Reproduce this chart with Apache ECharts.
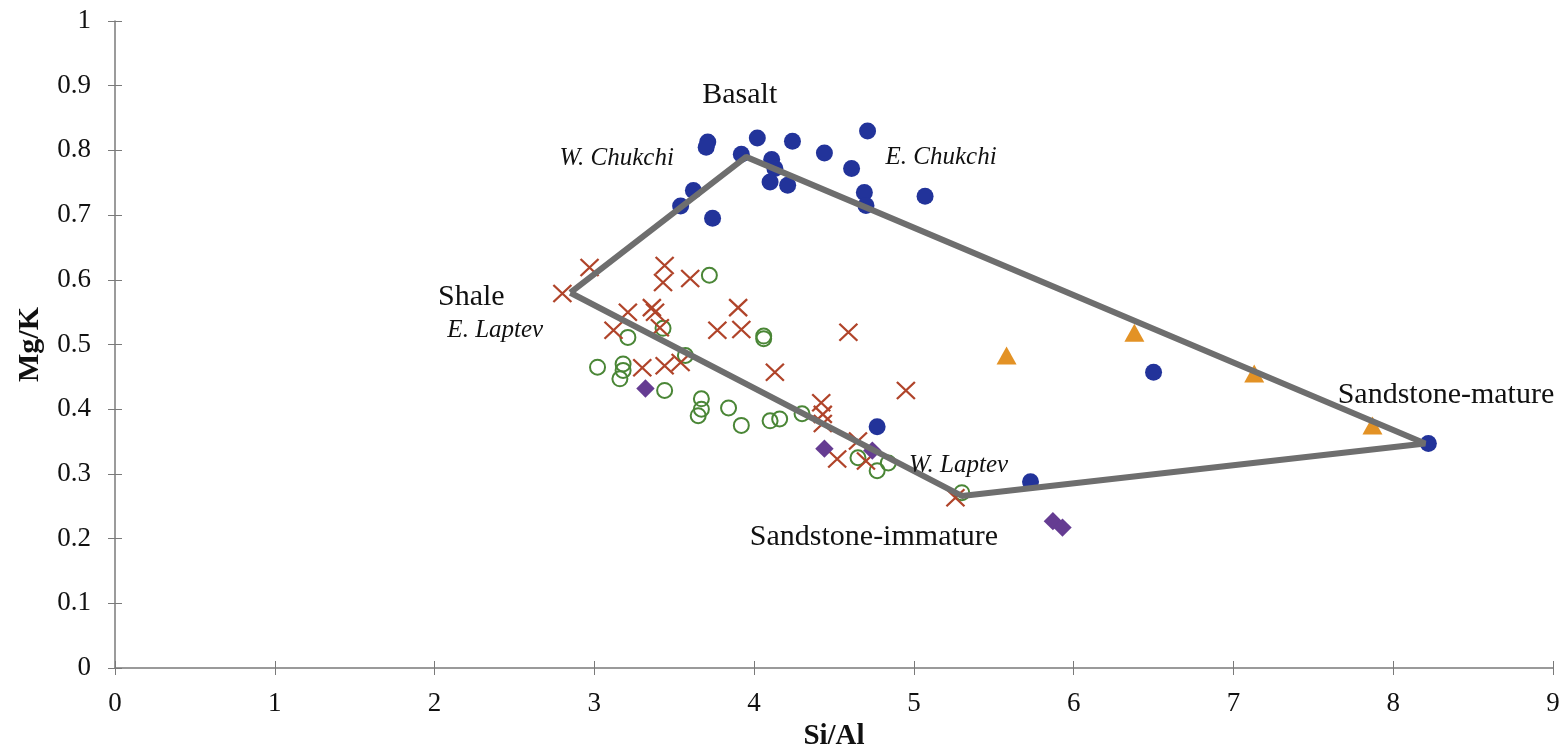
<!DOCTYPE html>
<html>
<head>
<meta charset="utf-8">
<style>
  html, body { margin: 0; padding: 0; background: #fff; }
  #main { width: 1565px; height: 747px; }
</style>
</head>
<body>
<div id="main"></div>
<script src="https://cdn.jsdelivr.net/npm/echarts@6/dist/echarts.min.js"></script>
<script type="text/javascript">
    // Si/Al vs Mg/K
    var xTicks = [0, 1, 2, 3, 4, 5, 6, 7, 8, 9];
    var yTicks = [0, 0.1, 0.2, 0.3, 0.4, 0.5, 0.6, 0.7, 0.8, 0.9, 1];

    // blue filled circles
    var blueDots = [
        [3.71, 0.813], [3.70, 0.805], [4.02, 0.819], [4.24, 0.814], [3.92, 0.794],
        [4.11, 0.786], [4.13, 0.772], [4.10, 0.751], [4.21, 0.746], [4.44, 0.796],
        [4.61, 0.772], [4.71, 0.830], [4.69, 0.735], [4.70, 0.715], [5.07, 0.729],
        [3.62, 0.738], [3.54, 0.714], [3.74, 0.695], [4.77, 0.373], [6.50, 0.457],
        [5.73, 0.288], [8.22, 0.347]
    ];
    // orange triangles
    var orangeTri = [[5.58, 0.483], [6.38, 0.518], [7.13, 0.455], [7.87, 0.375]];
    // red crosses
    var redX = [
        [2.97, 0.619], [2.80, 0.579], [3.44, 0.622], [3.43, 0.596], [3.60, 0.602],
        [3.21, 0.550], [3.36, 0.557], [3.38, 0.550], [3.41, 0.526], [3.12, 0.522],
        [3.90, 0.557], [3.77, 0.522], [3.92, 0.523], [4.13, 0.457], [3.30, 0.464],
        [3.44, 0.467], [3.54, 0.472], [4.42, 0.410], [4.43, 0.392], [4.43, 0.378],
        [4.59, 0.519], [4.95, 0.429], [4.65, 0.351], [4.52, 0.323], [4.70, 0.320],
        [5.26, 0.263]
    ];
    // green open circles
    var greenO = [
        [3.72, 0.607], [3.43, 0.525], [3.21, 0.511], [4.06, 0.509], [4.06, 0.513],
        [3.57, 0.483], [3.02, 0.465], [3.18, 0.470], [3.18, 0.460], [3.16, 0.447],
        [3.44, 0.429], [3.67, 0.416], [3.67, 0.400], [3.65, 0.390], [3.84, 0.402],
        [3.92, 0.375], [4.10, 0.382], [4.16, 0.385], [4.30, 0.393], [4.65, 0.325],
        [4.77, 0.305], [4.84, 0.317], [5.30, 0.271]
    ];
    // purple diamonds
    var purpleD = [[3.32, 0.432], [4.44, 0.339], [4.74, 0.336], [5.87, 0.227], [5.93, 0.217]];

    // end-member polygon: Shale, Basalt, Sandstone-mature, Sandstone-immature
    var fieldLine = [[2.85, 0.58], [3.95, 0.79], [8.2, 0.347], [5.3, 0.266], [2.85, 0.58]];

    // text annotations [x, y, text]
    var plainNotes = [
        [3.91, 0.885, 'Basalt'],
        [2.23, 0.573, 'Shale'],
        [8.33, 0.421, 'Sandstone-mature'],
        [4.75, 0.203, 'Sandstone-immature']
    ];
    var italicNotes = [
        [3.14, 0.787, 'W. Chukchi'],
        [5.17, 0.789, 'E. Chukchi'],
        [2.38, 0.522, 'E. Laptev'],
        [5.28, 0.313, 'W. Laptev']
    ];

    var serif = '"Liberation Serif", "DejaVu Serif", serif';
    var axisGray = '#7a7a7a';
    var ink = '#111';
    var plotRect = { left: 115, right: 12, top: 21, bottom: 79, outerBoundsMode: 'none', containLabel: false };

    var myChart = echarts.init(document.getElementById('main'));

    function noteSeries(list, italic) {
        return {
            type: 'scatter',
            symbolSize: 0,
            silent: true,
            z: 5,
            itemStyle: { opacity: 1 },
            data: list.map(function (d) { return { value: [d[0], d[1]], name: d[2] }; }),
            label: {
                show: true,
                position: 'inside',
                formatter: '{b}',
                color: ink,
                opacity: 1,
                fontFamily: serif,
                fontSize: italic ? 25 : 30,
                fontStyle: italic ? 'italic' : 'normal'
            }
        };
    }

    // a twin grid only draws the inner half of every tick
    var innerX = {
        type: 'value', gridIndex: 1,
        min: xTicks[0], max: xTicks[xTicks.length - 1], interval: 1,
        position: 'bottom',
        axisLine: { show: false },
        axisTick: { show: true, inside: true, length: 7, lineStyle: { color: axisGray } },
        axisLabel: { show: false },
        splitLine: { show: false }
    };
    var innerY = {
        type: 'value', gridIndex: 1,
        min: yTicks[0], max: yTicks[yTicks.length - 1], interval: 0.1,
        position: 'left',
        axisLine: { show: false },
        axisTick: { show: true, inside: true, length: 7, lineStyle: { color: axisGray } },
        axisLabel: { show: false },
        splitLine: { show: false }
    };

    myChart.setOption({
        backgroundColor: '#fff',
        animation: false,
        grid: [plotRect, plotRect],
        xAxis: [{
            type: 'value',
            min: xTicks[0], max: xTicks[xTicks.length - 1], interval: 1,
            position: 'bottom',
            name: 'Si/Al',
            nameLocation: 'middle',
            nameGap: 25,
            nameTextStyle: { fontFamily: serif, fontSize: 29, fontWeight: 'bold', color: ink },
            axisLine: { lineStyle: { color: axisGray, width: 1.5 } },
            axisTick: { show: true, length: 7, lineStyle: { color: axisGray } },
            axisLabel: { fontFamily: serif, fontSize: 27, color: ink, margin: 22 },
            splitLine: { show: false }
        }, innerX],
        yAxis: [{
            type: 'value',
            min: yTicks[0], max: yTicks[yTicks.length - 1], interval: 0.1,
            position: 'left',
            name: 'Mg/K',
            nameLocation: 'middle',
            nameGap: 70,
            nameRotate: 90,
            nameTextStyle: { fontFamily: serif, fontSize: 30, fontWeight: 'bold', color: ink },
            axisLine: { show: true, lineStyle: { color: axisGray, width: 1.5 } },
            axisTick: { show: true, length: 7, lineStyle: { color: axisGray } },
            axisLabel: { fontFamily: serif, fontSize: 27, color: ink, margin: 24 },
            splitLine: { show: false }
        }, innerY],
        series: [
            {
                name: 'field',
                type: 'line',
                data: fieldLine,
                symbol: 'none',
                z: 4,
                lineStyle: { color: '#6e6e6e', width: 6 }
            },
            {
                name: 'green',
                type: 'scatter',
                data: greenO,
                symbol: 'circle',
                symbolSize: 15,
                z: 3,
                itemStyle: { color: 'rgba(0,0,0,0)', borderColor: '#4a8636', borderWidth: 2, opacity: 1 }
            },
            {
                name: 'red',
                type: 'scatter',
                data: redX,
                symbol: 'path://M0,0L10,10M10,0L0,10',
                symbolSize: [18, 17],
                z: 3,
                itemStyle: { color: 'none', borderColor: '#b0442a', borderWidth: 2.2, opacity: 1 }
            },
            {
                name: 'purple',
                type: 'scatter',
                data: purpleD,
                symbol: 'rect',
                symbolSize: 13,
                symbolRotate: 45,
                z: 3,
                itemStyle: { color: '#653c92', opacity: 1 }
            },
            {
                name: 'orange',
                type: 'scatter',
                data: orangeTri,
                symbol: 'triangle',
                symbolSize: [20, 18],
                z: 3,
                itemStyle: { color: '#e39225', opacity: 1 }
            },
            {
                name: 'blue',
                type: 'scatter',
                data: blueDots,
                symbol: 'circle',
                symbolSize: 17,
                z: 3,
                itemStyle: { color: '#22339a', opacity: 1 }
            },
            noteSeries(plainNotes, false),
            noteSeries(italicNotes, true)
        ]
    });
</script>
</body>
</html>
